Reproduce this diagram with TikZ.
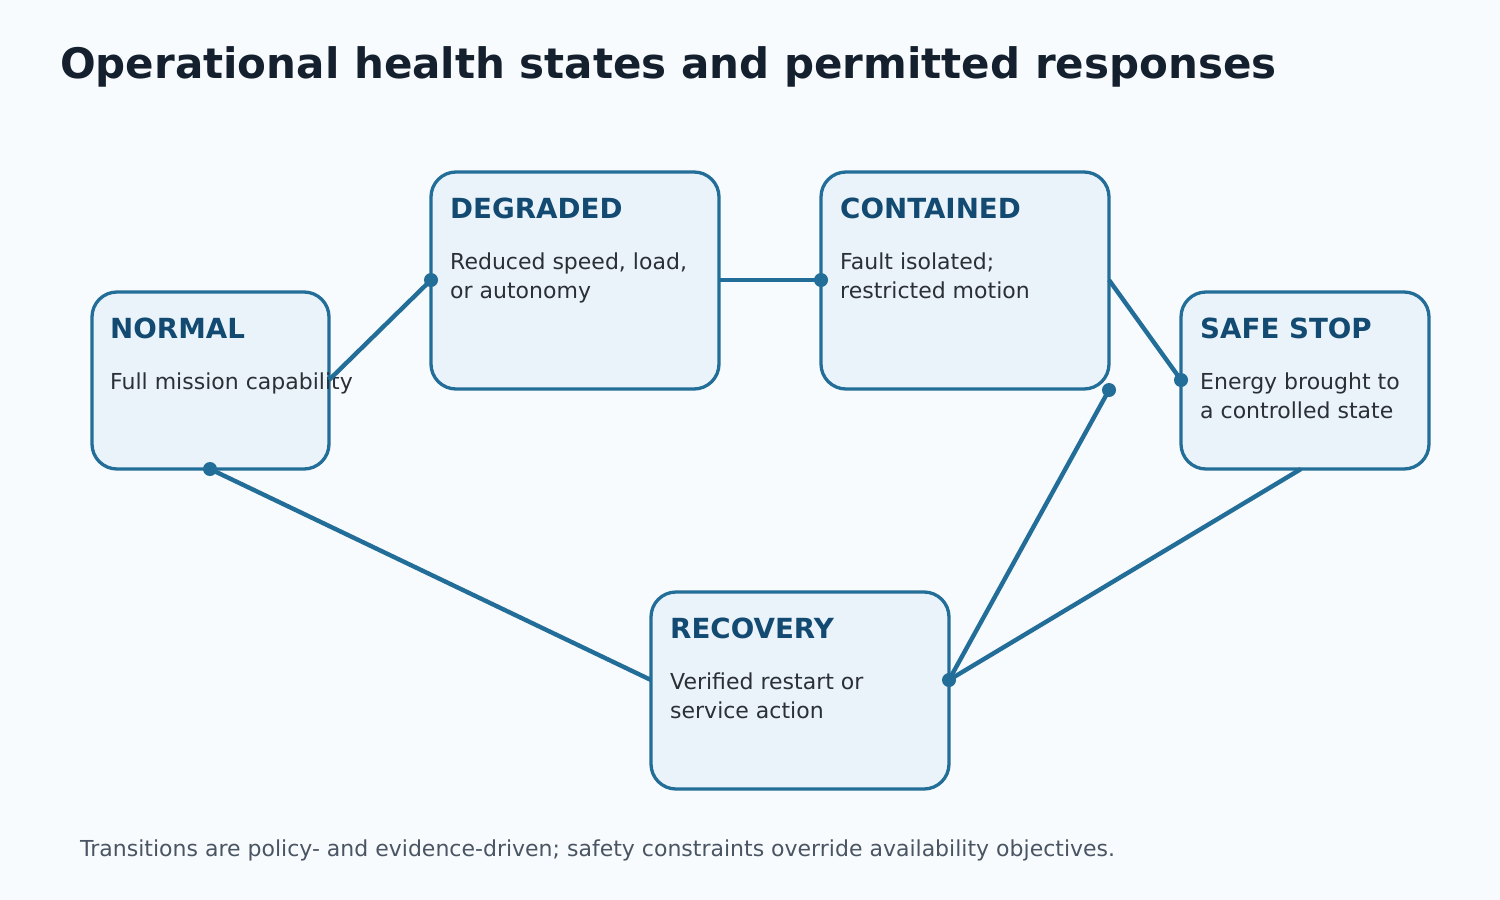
\documentclass[tikz,border=0pt]{standalone}
\usepackage{fontspec}
\setmainfont{DejaVu Sans}
\begin{document}
\definecolor{bg}{HTML}{F8FBFD}
\definecolor{boxfill}{HTML}{EAF3FA}
\definecolor{edge}{HTML}{236E99}
\definecolor{head}{HTML}{134A72}
\definecolor{body}{HTML}{2B2F36}
\definecolor{ttl}{HTML}{15202E}
\definecolor{foot}{HTML}{4A5563}
\begin{tikzpicture}[x=1pt,y=-1pt,
  state/.style={draw=edge,line width=3.3pt,fill=boxfill,rounded corners=25pt},
  hd/.style={anchor=base west,inner sep=0,font=\fontsize{27.7}{30}\selectfont\bfseries,text=head},
  bd/.style={anchor=base west,inner sep=0,font=\fontsize{22}{29}\selectfont,text=body},
  conn/.style={draw=edge,line width=4.4pt},
  dot/.style={circle,fill=edge,inner sep=0,minimum size=14pt}]
\fill[bg] (0,0) rectangle (1500,900);
\useasboundingbox (0,0) rectangle (1500,900);
\node[anchor=base west,inner sep=0,font=\fontsize{42}{46}\selectfont\bfseries,text=ttl] (title) at (60,78) {Operational health states and permitted responses};
% boxes
\path[state] (92,292) rectangle (329,469); \coordinate (nR) at (329,380); \coordinate (nB) at (210,469);
\path[state] (431,172) rectangle (719,389); \coordinate (dL) at (431,280); \coordinate (dR) at (719,280);
\path[state] (821,172) rectangle (1109,389); \coordinate (cL) at (821,280); \coordinate (cR) at (1109,280); \coordinate (cBR) at (1109,390);
\path[state] (1181,292) rectangle (1429,469); \coordinate (sL) at (1181,380); \coordinate (sB) at (1301,469);
\path[state] (651,592) rectangle (949,789); \coordinate (rL) at (651,680); \coordinate (rR) at (949,680);
% texts
\node[hd] (h1) at (110,338) {NORMAL};
\node[bd] (b1) at (110,389) {Full mission capability};
\node[hd] (h2) at (450,218) {DEGRADED};
\node[bd] (b2a) at (450,269) {Reduced speed, load,};
\node[bd] (b2b) at (450,298) {or autonomy};
\node[hd] (h3) at (840,218) {CONTAINED};
\node[bd] (b3a) at (840,269) {Fault isolated;};
\node[bd] (b3b) at (840,298) {restricted motion};
\node[hd] (h4) at (1200,338) {SAFE STOP};
\node[bd] (b4a) at (1200,389) {Energy brought to};
\node[bd] (b4b) at (1200,418) {a controlled state};
\node[hd] (h5) at (670,638) {RECOVERY};
\node[bd] (b5a) at (670,689) {Verified restart or};
\node[bd] (b5b) at (670,718) {service action};
% connectors
\draw[conn] (nR) -- (dL);
\draw[conn] (dR) -- (cL);
\draw[conn] (cR) -- (sL);
\draw[conn] (rL) -- (nB);
\draw[conn] (rR) -- (cBR);
\draw[conn] (sB) -- (rR);
\foreach \p in {dL,cL,sL,nB,cBR,rR} \node[dot] at (\p) {};
\node[anchor=base west,inner sep=0,font=\fontsize{22}{24}\selectfont,text=foot] (foot) at (80,856) {Transitions are policy- and evidence-driven; safety constraints override availability objectives.};
\end{tikzpicture}
\end{document}
